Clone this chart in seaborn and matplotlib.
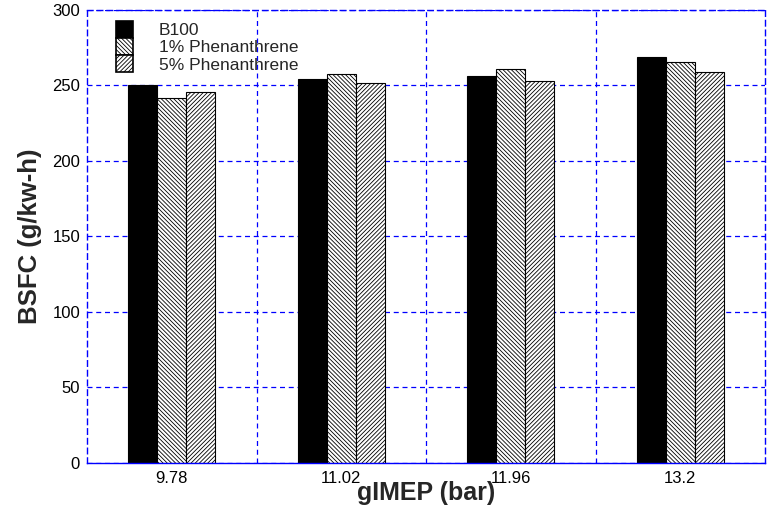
import matplotlib
matplotlib.use("Agg")
import matplotlib.pyplot as plt
import matplotlib.patches as mpatches
import seaborn as sns
import pandas as pd

# gIMEP operating points (bar) and BSFC for each fuel blend
loads = ["9.78", "11.02", "11.96", "13.2"]
fuels = ["B100", "1% Phenanthrene", "5% Phenanthrene"]
bsfc_b100 = [250.0, 254.3, 256.5, 269.1]
bsfc_phen1 = [241.7, 257.6, 261.1, 265.3]
bsfc_phen5 = [245.5, 251.4, 252.8, 258.7]
y_ticks = [0, 50, 100, 150, 200, 250, 300]

df = pd.DataFrame({
    "load": loads * 3,
    "fuel": [fuels[0]] * 4 + [fuels[1]] * 4 + [fuels[2]] * 4,
    "bsfc": bsfc_b100 + bsfc_phen1 + bsfc_phen5,
})

sns.set_theme(style="white")
plt.rcParams["font.family"] = ["Liberation Sans", "DejaVu Sans"]
plt.rcParams["hatch.linewidth"] = 0.6
plt.rcParams["hatch.color"] = "black"

fig = plt.figure(figsize=(7.72, 5.12), dpi=100)
ax = fig.add_axes([0.1127, 0.0957, 0.8783, 0.8848])

fills = {"B100": "black", "1% Phenanthrene": "white", "5% Phenanthrene": "white"}
hatches = ["", "\\" * 8, "/" * 8]

sns.barplot(data=df, x="load", y="bsfc", hue="fuel", order=loads, hue_order=fuels,
            palette=fills, width=0.515, saturation=1, edgecolor="black",
            linewidth=0.8, legend=False, ax=ax)

for container, h in zip(ax.containers, hatches):
    for bar in container:
        bar.set_hatch(h)
        bar.set_edgecolor("black")

ax.set_ylim(0, 300)
ax.set_xlim(-0.5, len(loads) - 0.5)
ax.set_yticks(y_ticks)
ax.set_xticks(range(len(loads)))
ax.set_xticks([0.5, 1.5, 2.5], minor=True)
ax.set_xticklabels(loads)

grid_kw = dict(color="blue", linestyle=(0, (4, 3)), linewidth=0.9)
ax.set_axisbelow(True)
ax.grid(True, axis="y", which="major", **grid_kw)
ax.grid(True, axis="x", which="minor", **grid_kw)
ax.grid(False, axis="x", which="major")

for name, sp in ax.spines.items():
    sp.set_visible(True)
    sp.set_color("blue")
    sp.set_linewidth(1.0)
    if name != "bottom":
        sp.set_linestyle((0, (4, 3)))

ax.tick_params(axis="both", which="both", length=0, labelsize=12, colors="black")
ax.tick_params(axis="y", pad=5)
ax.tick_params(axis="x", pad=6)

ax.set_xlabel("gIMEP (bar)", fontsize=18, fontweight="bold", labelpad=-4)
ax.set_ylabel("BSFC (g/kw-h)", fontsize=18.5, fontweight="bold", labelpad=7)

handles = [mpatches.Patch(facecolor=fills[f], edgecolor="black", hatch=h, linewidth=1.2)
           for f, h in zip(fuels, hatches)]
ax.legend(handles, fuels, loc="upper left", bbox_to_anchor=(0.03, 0.995),
          frameon=False, fontsize=12.5, handlelength=1.0, handleheight=1.1,
          handletextpad=1.45, labelspacing=0.0, borderaxespad=0.2, borderpad=0.3)

fig.savefig("out.png", dpi=100)
